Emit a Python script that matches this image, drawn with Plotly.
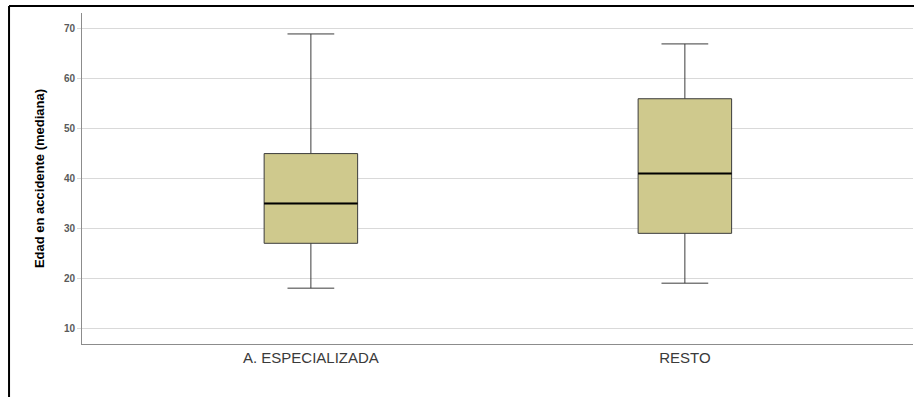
import plotly.graph_objects as go

# Age distribution per care group (five-number summaries)
categories = ["A. ESPECIALIZADA", "RESTO"]
lower_whisker = [18, 19]
q1_values = [27, 29]
median_values = [35, 41]
q3_values = [45, 56]
upper_whisker = [69, 67]
y_ticks = [10, 20, 30, 40, 50, 60, 70]

box_width = 0.25
positions = list(range(len(categories)))

fig = go.Figure()
fig.add_trace(go.Box(
    x=positions,
    q1=q1_values,
    median=median_values,
    q3=q3_values,
    lowerfence=lower_whisker,
    upperfence=upper_whisker,
    width=box_width,
    whiskerwidth=0.5,
    boxpoints=False,
    fillcolor="#cfc98d",
    line=dict(color="#3c3c3c", width=1),
    hoverinfo="skip",
    showlegend=False,
))

# Heavier black median lines drawn over each box
for pos, med in zip(positions, median_values):
    fig.add_trace(go.Scatter(
        x=[pos - box_width / 2, pos + box_width / 2],
        y=[med, med],
        mode="lines",
        line=dict(color="#000000", width=2),
        hoverinfo="skip",
        showlegend=False,
    ))

fig.update_layout(
    width=914,
    height=397,
    margin=dict(l=82, r=1, t=13, b=53),
    paper_bgcolor="white",
    plot_bgcolor="white",
    font=dict(family="Liberation Sans, Arial, sans-serif", color="#333333"),
    xaxis=dict(
        range=[-0.612, 1.61],
        tickvals=positions,
        ticktext=categories,
        tickfont=dict(size=15, color="#3a3a3a"),
        showgrid=False,
        zeroline=False,
        showline=True,
        linecolor="#8c8c8c",
        linewidth=1,
        ticks="",
    ),
    yaxis=dict(
        range=[6.8, 73.2],
        tickvals=y_ticks,
        tickfont=dict(size=10, color="#5a5a5a", weight="bold"),
        showgrid=True,
        gridcolor="#d9d9d9",
        gridwidth=1,
        zeroline=False,
        showline=True,
        linecolor="#8c8c8c",
        linewidth=1,
        ticks="outside",
        ticklen=4,
        tickcolor="#d9d9d9",
        title=dict(
            text="<b>Edad en accidente (mediana)</b>",
            font=dict(size=13, color="#000000"),
            standoff=16,
        ),
    ),
    shapes=[
        dict(type="line", xref="paper", yref="paper",
             x0=-0.0878, x1=-0.0878, y0=-0.2, y1=1.021,
             line=dict(color="#000000", width=2)),
        dict(type="line", xref="paper", yref="paper",
             x0=-0.0878, x1=1.01, y0=1.021, y1=1.021,
             line=dict(color="#000000", width=2)),
    ],
)

fig.write_html("out.html")
